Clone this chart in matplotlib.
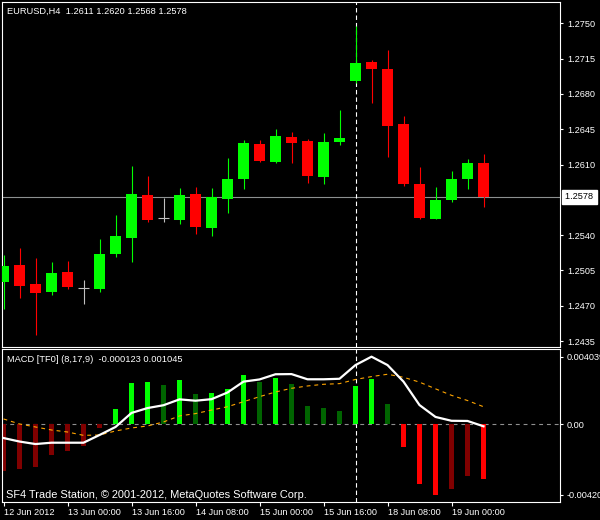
import matplotlib
matplotlib.use('Agg')
import matplotlib.pyplot as plt
import numpy as np
from matplotlib.transforms import blended_transform_factory

plt.rcParams['font.family'] = ['Liberation Sans', 'DejaVu Sans']

# ---------------- data ----------------
symbol = "EURUSD,H4"
opens = [1.2494, 1.2510, 1.2492, 1.2484, 1.2503, 1.2488, 1.2487, 1.2521, 1.2537, 1.2580,
         1.2557, 1.2555, 1.2581, 1.2547, 1.2576, 1.2596, 1.2630, 1.2612, 1.2637, 1.2633,
         1.2598, 1.2632, 1.2693, 1.2712, 1.2705, 1.2650, 1.2591, 1.2556, 1.2575, 1.2596, 1.2611]
highs = [1.2520, 1.2527, 1.2517, 1.2513, 1.2514, 1.2495, 1.2536, 1.2560, 1.2609, 1.2599,
         1.2577, 1.2587, 1.2588, 1.2587, 1.2616, 1.2634, 1.2634, 1.2645, 1.2642, 1.2635,
         1.2641, 1.2664, 1.2747, 1.2714, 1.2724, 1.2658, 1.2608, 1.2588, 1.2604, 1.2615, 1.2620]
lows = [1.2467, 1.2478, 1.2441, 1.2481, 1.2487, 1.2472, 1.2484, 1.2518, 1.2513, 1.2553,
        1.2553, 1.2551, 1.2541, 1.2539, 1.2562, 1.2586, 1.2612, 1.2611, 1.2611, 1.2592,
        1.2591, 1.2629, 1.2691, 1.2671, 1.2617, 1.2589, 1.2556, 1.2556, 1.2573, 1.2586, 1.2568]
closes = [1.2509, 1.2490, 1.2483, 1.2502, 1.2489, 1.2488, 1.2521, 1.2539, 1.2581, 1.2555,
          1.2557, 1.2580, 1.2548, 1.2578, 1.2596, 1.2631, 1.2613, 1.2638, 1.2631, 1.2599,
          1.2632, 1.2636, 1.2711, 1.2705, 1.2648, 1.2591, 1.2557, 1.2575, 1.2596, 1.2611, 1.2578]

macd_hist = [-0.00279, -0.00267, -0.00255, -0.00183, -0.00159, -0.00130, -0.00022, 0.00092,
             0.00247, 0.00253, 0.00235, 0.00265, 0.00181, 0.00187, 0.00211, 0.00295, 0.00253,
             0.00277, 0.00241, 0.00109, 0.00097, 0.00079, 0.00229, 0.00271, 0.00121, -0.00136,
             -0.00357, -0.00420, -0.00387, -0.00309, -0.00327]
hist_kind = ['dr', 'dr', 'dr', 'dr', 'dr', 'dr', 'dr', 'g', 'g', 'g', 'dg', 'g', 'dg', 'g', 'g',
             'g', 'dg', 'g', 'dg', 'dg', 'dg', 'dg', 'g', 'g', 'dg', 'r', 'r', 'r', 'dr', 'dr', 'r']
macd_main = [-0.00082, -0.00103, -0.00118, -0.00110, -0.00110, -0.00110, -0.00064, -0.00016,
             0.00068, 0.00097, 0.00114, 0.00149, 0.00141, 0.00150, 0.00190, 0.00255, 0.00268,
             0.00299, 0.00300, 0.00269, 0.00269, 0.00272, 0.00354, 0.00404, 0.00354, 0.00255,
             0.00115, 0.00044, 0.00021, 0.00020, -0.00012]
macd_signal = [0.00032, 0.00002, -0.00016, -0.00034, -0.00046, -0.00066, -0.00064, -0.00040,
               -0.00022, -0.00010, 0.00014, 0.00050, 0.00064, 0.00085, 0.00105, 0.00135, 0.00165,
               0.00193, 0.00215, 0.00229, 0.00239, 0.00243, 0.00268, 0.00285, 0.00299, 0.00281,
               0.00252, 0.00212, 0.00173, 0.00142, 0.00105]
macd_last = -0.000123
signal_last = 0.001045
macd_scale_max = 0.004039
macd_scale_min = -0.004201

price_ticks = [1.2435, 1.2470, 1.2505, 1.2540, 1.2610, 1.2645, 1.2680, 1.2715, 1.2750]
time_tick_idx = [0, 4, 8, 12, 16, 20, 24, 28]
time_labels = ["12 Jun 2012", "13 Jun 00:00", "13 Jun 16:00", "14 Jun 08:00",
               "15 Jun 00:00", "15 Jun 16:00", "18 Jun 08:00", "19 Jun 00:00"]
cursor_idx = 22
footer = "SF4 Trade Station, \u00a9 2001-2012, MetaQuotes Software Corp."

# ---------------- layout ----------------
W, H = 600, 520
fig = plt.figure(figsize=(W / 100, H / 100), dpi=100, facecolor='black')


def rect(x0, y0, x1, y1):
    return [x0 / W, 1 - y1 / H, (x1 - x0) / W, (y1 - y0) / H]


ax = fig.add_axes(rect(2, 2, 560, 347))
axm = fig.add_axes(rect(2, 349.3, 560, 502.3))

BAR_PX = 16.0
x_left = (2 - 3.5) / BAR_PX
x_right = (560 - 3.5) / BAR_PX

for a in (ax, axm):
    a.set_facecolor('black')
    for s in a.spines.values():
        s.set_color('white')
        s.set_linewidth(0.8)
    a.set_xlim(x_left, x_right)

o = np.array(opens); hi = np.array(highs); lo = np.array(lows); c = np.array(closes)
idx = np.arange(len(o))

# ---------------- price panel ----------------
ax.set_ylim(1.242906, 1.277112)
ax.axhline(c[-1], color='#8c9090', lw=0.8, zorder=1)
ax.axvline(cursor_idx, color='white', lw=0.8, ls=(0, (4, 2.7)), zorder=1)

up = c > o
dn = c < o
dj = c == o
cols = np.where(up, '#00ff00', np.where(dn, '#ff0000', '#c0c0c0'))
ax.vlines(idx, lo, hi, colors=cols, lw=0.8, zorder=2)
body = ~dj
ax.bar(idx[body], np.abs(c - o)[body], bottom=np.minimum(o, c)[body], width=11 / BAR_PX,
       color=cols[body], linewidth=0, zorder=3)
ax.hlines(c[dj], idx[dj] - 5.5 / BAR_PX, idx[dj] + 5.5 / BAR_PX, colors='#c0c0c0', lw=0.8, zorder=3)

ax.yaxis.tick_right()
ax.set_yticks(price_ticks)
ax.set_yticklabels([f"{p:.4f}" for p in price_ticks])
ax.tick_params(axis='y', colors='white', labelcolor='white', length=2.5, width=0.8,
               pad=2.5, labelsize=6.6, direction='out')
ax.set_xticks([])

header = f"{symbol}  {o[-1]:.4f} {hi[-1]:.4f} {lo[-1]:.4f} {c[-1]:.4f}"
ax.text(5 / 558, 1 - 9 / 345, header, transform=ax.transAxes, color='white',
        fontsize=6.7, va='center', ha='left')

trans = blended_transform_factory(ax.transAxes, ax.transData)
ax.text(1 + 4.7 / 558, c[-1], f"{c[-1]:.4f} ", transform=trans, color='black', fontsize=6.6,
        va='center', ha='left', zorder=10, clip_on=False,
        bbox=dict(boxstyle='square,pad=0.25', facecolor='white', edgecolor='white'))

# ---------------- MACD panel ----------------
pix_per_unit = 16737.0
axm.set_ylim(-(502.3 - 424.3) / pix_per_unit, (424.3 - 349.3) / pix_per_unit)
axm.axvline(cursor_idx, color='white', lw=0.8, ls=(0, (4, 2.7)), zorder=1)
axm.axhline(0, color='#909090', lw=0.8, ls=(0, (3.5, 3.5)), zorder=1)

kind_color = {'g': '#00ff00', 'dg': '#006400', 'r': '#ff0000', 'dr': '#800000'}
axm.bar(idx, macd_hist, width=5 / BAR_PX, color=[kind_color[k] for k in hist_kind],
        linewidth=0, zorder=2)
axm.plot(idx, macd_signal, color='#ffa500', lw=0.8, ls=(0, (3.5, 3.5)), zorder=3)
axm.plot(idx, macd_main, color='white', lw=1.6, zorder=4)

axm.yaxis.tick_right()
axm.set_yticks([macd_scale_max, 0.0, macd_scale_min])
axm.set_yticklabels([f"{macd_scale_max:.6f}", "0.00", f"{macd_scale_min:.6f}"])
axm.tick_params(axis='y', colors='white', labelcolor='white', length=2.5, width=0.8,
                pad=2.0, labelsize=6.6, direction='out')

axm.set_xticks(time_tick_idx)
axm.set_xticklabels(time_labels)
axm.tick_params(axis='x', colors='white', labelcolor='white', length=3, width=0.8,
                pad=1.0, labelsize=6.6, direction='out')
for lab in axm.get_xticklabels():
    lab.set_horizontalalignment('left')

axm.text(5 / 558, 1 - 10 / 153, f"MACD [TF0] (8,17,9)  {macd_last:.6f} {signal_last:.6f}",
         transform=axm.transAxes, color='white', fontsize=6.7, va='center', ha='left')
axm.text(4 / 558, 1 - 145.7 / 153, footer, transform=axm.transAxes, color='white',
         fontsize=7.9, va='center', ha='left', zorder=6)

fig.savefig('out.png', dpi=100, facecolor='black')
